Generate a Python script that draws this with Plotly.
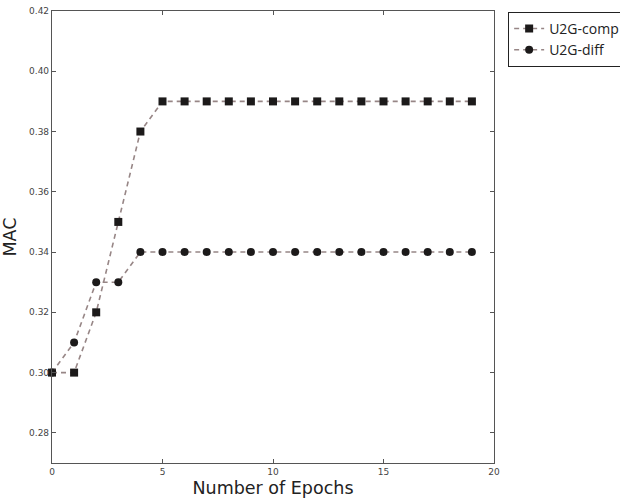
import plotly.graph_objects as go

epochs = list(range(20))
u2g_comp = [0.30, 0.30, 0.32, 0.35, 0.38, 0.39, 0.39, 0.39, 0.39, 0.39,
            0.39, 0.39, 0.39, 0.39, 0.39, 0.39, 0.39, 0.39, 0.39, 0.39]
u2g_diff = [0.30, 0.31, 0.33, 0.33, 0.34, 0.34, 0.34, 0.34, 0.34, 0.34,
            0.34, 0.34, 0.34, 0.34, 0.34, 0.34, 0.34, 0.34, 0.34, 0.34]
x_ticks = [0, 5, 10, 15, 20]
y_ticks = [0.28, 0.30, 0.32, 0.34, 0.36, 0.38, 0.40, 0.42]

line_col = "#978686"
mark_col = "#1c1a1a"
font_family = "DejaVu Sans, sans-serif"

fig = go.Figure()
fig.add_trace(go.Scatter(
    x=epochs, y=u2g_comp, name="U2G-comp", mode="lines+markers",
    line=dict(color=line_col, width=1.6, dash="5px,4px"),
    marker=dict(symbol="square", size=8, color=mark_col),
    cliponaxis=False,
))
fig.add_trace(go.Scatter(
    x=epochs, y=u2g_diff, name="U2G-diff", mode="lines+markers",
    line=dict(color=line_col, width=1.6, dash="5px,4px"),
    marker=dict(symbol="circle", size=8, color=mark_col),
    cliponaxis=False,
))

axis_common = dict(
    showgrid=False, zeroline=False, showline=True, linecolor="#555",
    linewidth=1.2, mirror="allticks", ticks="inside", ticklen=4,
    tickcolor="#555", tickfont=dict(family=font_family, size=9, color="#444"),
)

fig.update_layout(
    width=620, height=499,
    margin=dict(l=52, r=126, t=11, b=36, autoexpand=False),
    paper_bgcolor="white", plot_bgcolor="white",
    font=dict(family=font_family, color="#222"),
    xaxis=dict(range=[0, 20], tickvals=x_ticks, ticktext=[str(v) for v in x_ticks],
               title=dict(text="Number of Epochs", font=dict(size=17.5, color="#222"), standoff=5),
               **axis_common),
    yaxis=dict(range=[0.27, 0.42], tickvals=y_ticks, ticktext=[f"{v:.2f}" for v in y_ticks],
               title=dict(text="MAC", font=dict(size=17.5, color="#222"), standoff=8),
               **axis_common),
    legend=dict(x=1.032, y=0.998, xanchor="left", yanchor="top",
                bordercolor="#222", borderwidth=1, bgcolor="white",
                font=dict(family="Open Sans, sans-serif", size=14, color="#222"),
                itemwidth=30, tracegroupgap=0),
    showlegend=True,
)

fig.write_html("out.html")
